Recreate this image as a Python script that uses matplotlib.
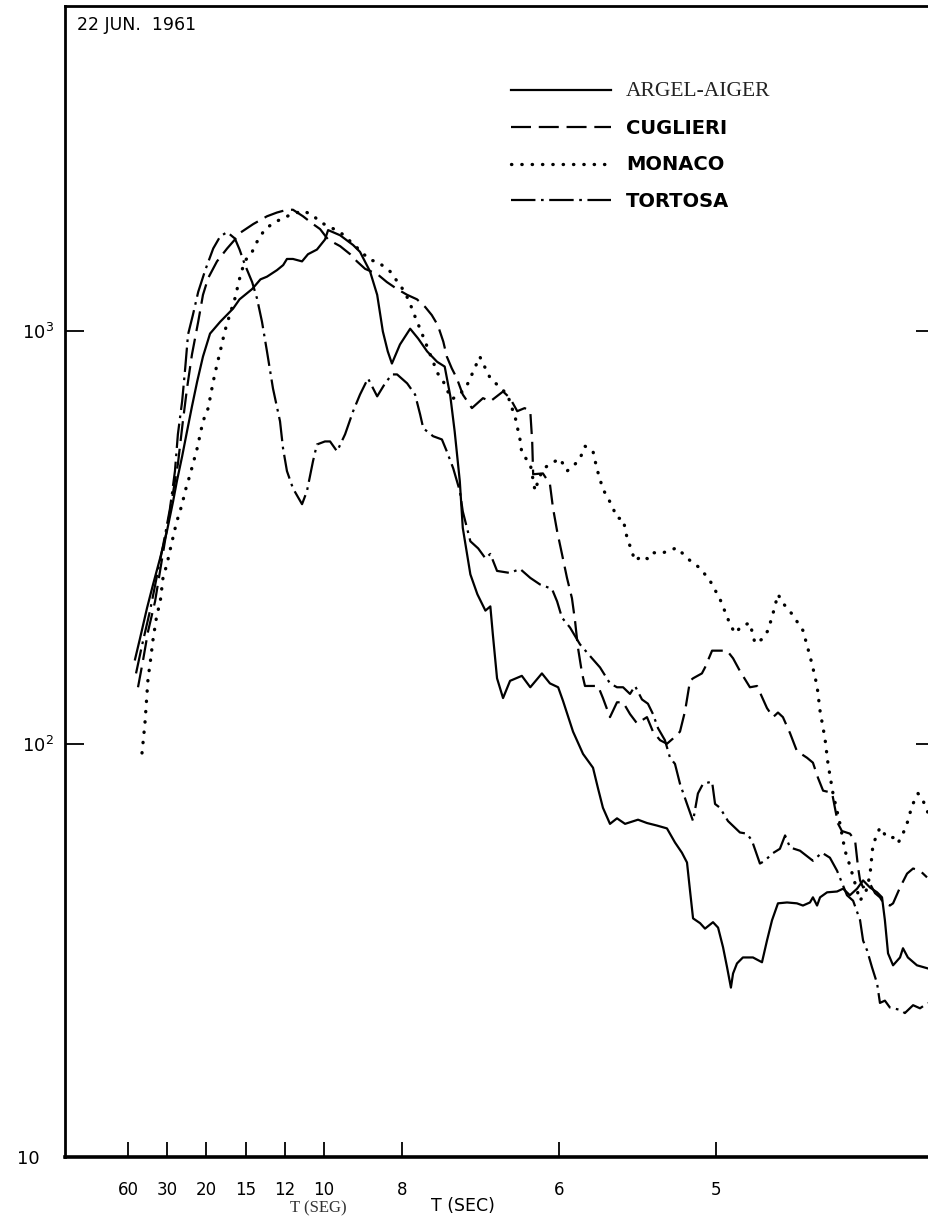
import matplotlib
matplotlib.use("Agg")
import matplotlib.pyplot as plt
from matplotlib.transforms import ScaledTranslation
import numpy as np

# --- values: period T (s) and amplitude ---
argel_T = [50.9, 45.9, 40.4, 36.6, 33.0, 30.1, 27.9, 26.7, 25.2, 23.95, 22.8, 21.7, 20.6, 19.4,
           17.9, 16.3, 15.6, 14.4, 13.7, 13.2, 12.5, 12.1, 11.87, 11.52, 11.03, 10.73, 10.31, 9.97,
           9.87, 9.51, 9.15, 8.97, 8.72, 8.55, 8.42, 8.31, 8.22, 8.05, 7.87, 7.74, 7.60, 7.45,
           7.34, 7.26, 7.20, 7.13, 7.09, 6.99, 6.90, 6.80, 6.74, 6.71, 6.66, 6.59, 6.51, 6.38,
           6.29, 6.17, 6.09, 6.01, 5.971, 5.896, 5.823, 5.752, 5.717, 5.683, 5.635, 5.588, 5.535, 5.452,
           5.396, 5.335, 5.275, 5.228, 5.188, 5.159, 5.142, 5.125, 5.086, 5.059, 5.016, 4.989, 4.963, 4.942,
           4.922, 4.911, 4.891, 4.861, 4.811, 4.767, 4.743, 4.719, 4.691, 4.649, 4.604, 4.577, 4.546, 4.533,
           4.515, 4.502, 4.472, 4.430, 4.405, 4.377, 4.348, 4.324, 4.297, 4.269, 4.250, 4.239, 4.227, 4.208,
           4.182, 4.171, 4.153, 4.120, 4.081]
argel_A = [160, 180, 213, 243, 281, 327, 386, 432, 496, 570, 655, 753, 865, 983,
           1050, 1130, 1190, 1260, 1330, 1350, 1400, 1440, 1490, 1490, 1470, 1530, 1570, 1660,
           1750, 1700, 1610, 1550, 1390, 1220, 995, 890, 832, 925, 1010, 956, 890, 840,
           818, 693, 570, 432, 333, 257, 230, 210, 215, 184, 144, 129, 142, 146,
           137, 148, 140, 137, 127, 107, 94.5, 87.5, 78, 70, 64, 66, 64, 65.5,
           64.3, 63.4, 62.4, 57.7, 54.5, 51.6, 44.1, 37.8, 36.8, 35.7, 37.0, 35.9, 32.2, 28.8,
           25.7, 27.8, 29.4, 30.4, 30.4, 29.6, 33.4, 37.4, 41.1, 41.3, 41.1, 40.6, 41.3, 42.5,
           40.6, 42.5, 43.7, 43.9, 44.6, 43.0, 44.6, 46.7, 44.9, 43.7, 42.5, 37.4, 31.1, 29.1,
           30.4, 32.0, 30.4, 29.1, 28.6]

cuglieri_T = [47.8, 43.4, 39.7, 35.5, 33.0, 30.9, 29.0, 27.3, 26.4, 25.0, 23.95, 22.8, 21.5,
              20.6, 19.7, 18.35, 17.0, 16.1, 15.6, 14.3, 13.2, 12.5, 11.87, 11.52, 10.98, 10.49,
              10.17, 9.87, 9.51, 9.23, 9.05, 8.84, 8.55, 8.33, 8.11, 7.92, 7.76, 7.63, 7.53,
              7.44, 7.36, 7.31, 7.24, 7.17, 7.09, 6.97, 6.83, 6.74, 6.59, 6.51, 6.43, 6.35,
              6.29, 6.27, 6.26, 6.16, 6.09, 6.06, 6.02, 5.979, 5.941, 5.904, 5.881, 5.860, 5.830,
              5.809, 5.717, 5.683, 5.635, 5.588, 5.548, 5.503, 5.458, 5.396, 5.359, 5.316, 5.275, 5.239,
              5.199, 5.170, 5.142, 5.125, 5.076, 5.059, 5.021, 4.942, 4.911, 4.876, 4.826, 4.791, 4.743,
              4.714, 4.691, 4.668, 4.635, 4.604, 4.559, 4.533, 4.511, 4.489, 4.451, 4.439, 4.426, 4.410,
              4.377, 4.356, 4.344, 4.336, 4.324, 4.297, 4.277, 4.258, 4.246, 4.220, 4.208, 4.182, 4.156,
              4.134, 4.109, 4.084]
cuglieri_A = [137, 159, 187, 221, 262, 309, 365, 432, 475, 603, 724, 875, 1050,
              1220, 1340, 1470, 1580, 1660, 1720, 1810, 1890, 1930, 1960, 1960, 1890, 1810,
              1760, 1660, 1600, 1530, 1470, 1410, 1370, 1310, 1260, 1220, 1190, 1140, 1090,
              1030, 940, 865, 810, 766, 700, 649, 686, 674, 712, 686, 638, 649,
              638, 539, 449, 451, 425, 372, 327, 288, 252, 225, 198, 171, 148,
              138, 138, 129, 116, 126, 126, 118, 112, 116, 107, 102, 100, 103,
              107, 120, 142, 144, 148, 153, 168, 168, 161, 150, 137, 138, 122,
              116, 119, 116, 106, 96, 92.5, 90.0, 82.7, 77.0, 76.1, 70.0, 64.1, 61.5,
              60.6, 58.3, 50.2, 46.7, 44.9, 45.9, 43.5, 42.5, 41.3, 40.6, 41.1, 44.9, 48.5,
              49.9, 49.3, 47.5]

monaco_T = [44.2, 43.4, 41.9, 39.7, 38.4, 36.6, 34.5, 33.0, 31.7, 30.1, 29.0, 27.3, 26.4,
            25.2, 24.4, 23.2, 21.7, 20.6, 19.7, 18.9, 18.35, 17.9, 17.3, 16.7, 16.1, 15.6,
            15.1, 14.4, 13.98, 13.35, 12.63, 11.87, 11.52, 11.03, 10.54, 10.17, 9.81, 9.51, 9.15,
            8.72, 8.55, 8.26, 7.96, 7.87, 7.79, 7.68, 7.59, 7.51, 7.44, 7.36, 7.31, 7.24,
            7.13, 7.03, 6.97, 6.87, 6.80, 6.74, 6.66, 6.54, 6.45, 6.40, 6.38, 6.29, 6.24,
            6.21, 6.16, 6.09, 5.994, 5.941, 5.896, 5.845, 5.809, 5.752, 5.724, 5.683, 5.648, 5.615,
            5.588, 5.548, 5.522, 5.503, 5.471, 5.427, 5.390, 5.359, 5.305, 5.269, 5.216, 5.153, 5.086,
            5.032, 4.979, 4.927, 4.901, 4.866, 4.826, 4.801, 4.767, 4.738, 4.714, 4.691, 4.668, 4.626,
            4.577, 4.555, 4.537, 4.515, 4.502, 4.481, 4.468, 4.447, 4.418, 4.397, 4.377, 4.356, 4.336,
            4.312, 4.297, 4.285, 4.258, 4.231, 4.208, 4.190, 4.171, 4.153, 4.138, 4.116, 4.098, 4.081]
monaco_A = [95, 100.6, 112, 144, 156, 179, 206, 219, 252, 272, 293, 331, 352,
            380, 409, 449, 519, 603, 649, 753, 827, 890, 995, 1090, 1195, 1335,
            1470, 1550, 1640, 1760, 1830, 1890, 1910, 1950, 1910, 1830, 1780, 1730, 1620,
            1480, 1470, 1390, 1240, 1160, 1080, 983, 905, 840, 787, 753, 720, 682,
            700, 740, 783, 865, 810, 766, 740, 700, 613, 545, 505, 475, 409,
            432, 462, 475, 490, 457, 469, 490, 525, 510, 462, 413, 393, 372,
            352, 350, 315, 301, 277, 285, 280, 290, 289, 293, 298, 280, 266,
            248, 224, 195, 185, 193, 196, 175, 179, 188, 207, 230, 219, 206,
            188, 170, 156, 138, 120, 103, 89.4, 75.8, 64.1, 55.1, 50.7, 45.9, 41.7,
            44.1, 48.0, 57.0, 62.7, 59.3, 59.3, 57.4, 60.6, 65.0, 70.8, 75.8, 72.8, 68.2]

tortosa_T = [49.8, 44.2, 38.4, 34.5, 31.7, 29.0, 27.3, 26.4, 25.2, 24.4, 23.7, 22.6, 21.5,
             20.2, 18.9, 17.9, 17.0, 16.1, 15.6, 15.1, 14.4, 13.98, 13.58, 13.2, 12.77, 12.30,
             12.11, 11.87, 11.52, 11.03, 10.78, 10.49, 10.31, 9.97, 9.81, 9.60, 9.37, 9.15, 8.97,
             8.77, 8.55, 8.37, 8.22, 8.11, 7.92, 7.79, 7.71, 7.66, 7.51, 7.38, 7.31, 7.22,
             7.13, 7.09, 6.99, 6.89, 6.80, 6.74, 6.66, 6.51, 6.40, 6.29, 6.19, 6.07, 6.02,
             5.979, 5.918, 5.845, 5.759, 5.703, 5.635, 5.588, 5.548, 5.503, 5.471, 5.427, 5.390, 5.359,
             5.328, 5.287, 5.257, 5.228, 5.199, 5.159, 5.125, 5.098, 5.070, 5.021, 5.005, 4.979, 4.937,
             4.876, 4.841, 4.816, 4.777, 4.753, 4.719, 4.682, 4.658, 4.635, 4.590, 4.533, 4.494, 4.460,
             4.430, 4.389, 4.364, 4.336, 4.324, 4.308, 4.289, 4.269, 4.258, 4.239, 4.220, 4.182, 4.164,
             4.134, 4.109, 4.081]
tortosa_A = [148, 173, 210, 255, 301, 370, 457, 561, 674, 810, 978, 1090, 1240,
             1400, 1580, 1690, 1730, 1670, 1570, 1450, 1310, 1195, 1050, 890, 724, 603,
             519, 457, 415, 380, 409, 483, 530, 539, 539, 510, 561, 638, 700,
             766, 693, 745, 783, 783, 745, 700, 627, 580, 555, 545, 510, 464,
             409, 365, 309, 297, 281, 288, 262, 259, 265, 252, 243, 237, 221,
             202, 191, 174, 161, 153, 140, 137, 137, 132, 138, 128, 125, 118,
             109, 102, 92.5, 89.4, 80, 71.5, 65, 75.8, 80, 81, 71.5, 70, 65,
             61, 60.6, 58.3, 51.3, 52.1, 54.2, 55.7, 60.0, 56.1, 55.1, 52.1, 54.5, 53.0,
             49.3, 43.0, 41.7, 37.4, 33.4, 31.6, 28.8, 26.3, 23.6, 23.9, 23.0, 22.7, 22.3,
             23.3, 22.9, 23.6]

stations = ["ARGEL-AIGER", "CUGLIERI", "MONACO", "TORTOSA"]
tick_periods = [60, 30, 20, 15, 12, 10, 8, 6, 5]
amp_ticks = [10, 100, 1000]
amp_labels = ["10", "$10^2$", "$10^3$"]

# the hand-drawn period axis: cycles per minute (60/T) -> tick-step units
F_BREAKS = [-1, 1, 2, 3, 4, 5, 6, 7.5, 10, 12, 20]
U_BREAKS = [-2, 0, 1, 2, 3, 4, 5, 7, 11, 15, 31]


def fwd(f):
    return np.interp(f, F_BREAKS, U_BREAKS)


def inv(u):
    return np.interp(u, U_BREAKS, F_BREAKS)


W, H = 929, 1222
plt.rcParams['mathtext.default'] = 'regular'
fig = plt.figure(figsize=(W / 100, H / 100), dpi=100)

# left spine at x=65 px, right spine just beyond the cut edge
ax = fig.add_axes([65 / W, 65 / H, (935 - 65) / W, (1157 - 6) / H])
ax.set_xscale('function', functions=(fwd, inv))

styles = [
    dict(ls='-'),
    dict(ls=(0, (9, 3.5))),
    dict(ls=(0, (0.1, 3.0)), dash_capstyle='round', lw=2.4),
    dict(ls=(0, (11, 2.5, 1.2, 2.5))),
]
series = [(argel_T, argel_A), (cuglieri_T, cuglieri_A),
          (monaco_T, monaco_A), (tortosa_T, tortosa_A)]

for (T, A), name, st in zip(series, stations, styles):
    kw = dict(color='black', lw=1.6)
    kw.update(st)
    ax.plot(60.0 / np.array(T), A, label=name, **kw)

ax.set_yscale('log')
ax.set_xlim(inv((65 - 128) / 39.2), inv((935 - 128) / 39.2))
ax.set_ylim(10, 6100)

ax.set_xticks([60.0 / t for t in tick_periods])
ax.set_xticklabels([str(t) for t in tick_periods])
ax.set_yticks(amp_ticks)
ax.set_yticklabels(amp_labels)
ax.minorticks_off()

ax.tick_params(axis='x', direction='in', length=11, width=1.3, pad=17,
               labelsize=12, bottom=True, top=False)
ax.tick_params(axis='y', direction='in', length=14, width=1.3, pad=8,
               labelsize=13, left=True, right=True)

for side in ['left', 'top']:
    ax.spines[side].set_linewidth(2.0)
ax.spines['bottom'].set_linewidth(2.6)
ax.spines['right'].set_visible(False)

# the bare "10" sits further out in the original
lbl = ax.get_yticklabels()[0]
lbl.set_transform(lbl.get_transform() + ScaledTranslation(-14 / 100, 0, fig.dpi_scale_trans))

leg = ax.legend(loc='upper left', bbox_to_anchor=(494 / W, 1 - 65 / H),
                bbox_transform=fig.transFigure, frameon=False,
                handlelength=5.1, handletextpad=0.78, labelspacing=0.9,
                fontsize=14)
for i, txt in enumerate(leg.get_texts()):
    if i == 0:
        # typewritten label in the original
        txt.set_family('Liberation Serif')
        txt.set_fontsize(15.5)
        txt.set_color('#222222')
    else:
        txt.set_family('DejaVu Sans')
        txt.set_fontweight('bold')

fig.text(77 / W, 1 - 25 / H, "22 JUN.  1961", ha='left', va='center',
         fontsize=12.5, family='DejaVu Sans')
fig.text(318 / W, 1 - 1208 / H, "T (SEG)", ha='center', va='center',
         fontsize=12, family='Liberation Serif', color='#333333')
fig.text(463 / W, 1 - 1206 / H, "T (SEC)", ha='center', va='center',
         fontsize=12.5, family='DejaVu Sans')

fig.savefig("out.png", dpi=100)
